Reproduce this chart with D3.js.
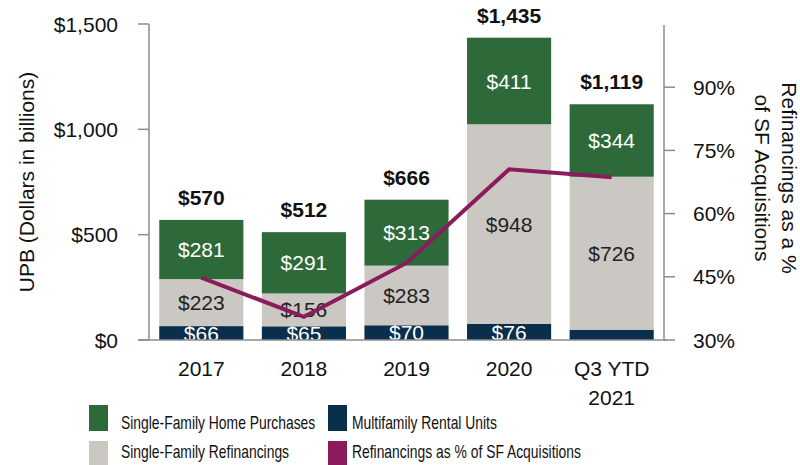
<!DOCTYPE html>
<html>
<head>
<meta charset="utf-8">
<title>UPB acquisitions stacked bars</title>
<script src="https://d3js.org/d3.v7.min.js"></script>
<style>
  body { margin: 0; background: #fff; }
  svg text { font-family: Arial, "Liberation Sans", Helvetica, sans-serif; }
</style>
</head>
<body>
<div id="chart"></div>
<script>
// data
var years = ["2017", "2018", "2019", "2020", "Q3 YTD|2021"];
var multifamily = [66, 65, 70, 76, 49];
var refinancings = [223, 156, 283, 948, 726];
var purchases = [281, 291, 313, 411, 344];
var totals = [570, 512, 666, 1435, 1119];
var refiPct = [44.8, 35.5, 48.3, 70.5, 68.6];
var leftTicks = [0, 500, 1000, 1500];
var rightTicks = [30, 45, 60, 75, 90];

var width = 800, height = 465;
// (window.top is taken, so plotTop etc.)
var plotLeft = 149, plotRight = 664, plotTop = 24, plotBottom = 340;

var svg = d3.select("#chart").append("svg")
    .attr("width", width)
    .attr("height", height);

var x = d3.scaleBand().domain(years).range([plotLeft, plotRight])
    .paddingInner(0.18).paddingOuter(0.1);
var y = d3.scaleLinear().domain([0, 1500]).range([plotBottom, plotTop]);
var y2 = d3.scaleLinear().domain([30, 105]).range([plotBottom, plotTop]);

var green = "#2e6a39", grey = "#cbc8c3", navy = "#0a2f4c", plum = "#8c1b5b";

// stacked segments, bottom up
var rows = years.map(function (d, i) {
    return { year: d, mf: multifamily[i], refi: refinancings[i], purch: purchases[i] };
});
var stack = d3.stack().keys(["mf", "refi", "purch"])(rows);
var fills = { mf: navy, refi: grey, purch: green };
var labelColor = { mf: "#fff", refi: "#222", purch: "#fff" };

stack.forEach(function (layer) {
    var g = svg.append("g");
    g.selectAll("rect")
        .data(layer)
        .enter().append("rect")
        .attr("x", function (d) { return x(d.data.year); })
        .attr("y", function (d) { return y(d[1]); })
        .attr("width", x.bandwidth())
        .attr("height", function (d) { return y(d[0]) - y(d[1]); })
        .attr("fill", fills[layer.key]);
});

// labels go on after all the bars so nothing covers them
stack.forEach(function (layer) {
    svg.append("g").selectAll("text")
        .data(layer.filter(function (d) { return !(layer.key == "mf" && d.data.year.indexOf("2021") >= 0); }))
        .enter().append("text")
        .attr("x", function (d) { return x(d.data.year) + x.bandwidth() / 2; })
        .attr("y", function (d) { return (y(d[0]) + y(d[1])) / 2; })
        .attr("dy", "0.36em")
        .attr("text-anchor", "middle")
        .style("font-size", "21px")
        .attr("fill", labelColor[layer.key])
        .text(function (d) { return "$" + d.data[layer.key]; });
});

// totals above each bar
svg.selectAll("text.total")
    .data(totals)
    .enter().append("text")
    .attr("class", "total")
    .attr("x", function (d, i) { return x(years[i]) + x.bandwidth() / 2; })
    .attr("y", function (d) { return y(d) - 15; })
    .attr("text-anchor", "middle")
    .style("font-size", "21px")
    .style("font-weight", "bold")
    .attr("fill", "#111")
    .text(function (d) { return "$" + d3.format(",")(d); });

// axes
var axisColor = "#8c8c8c";
svg.append("line")
    .attr("x1", plotLeft - 11).attr("x2", plotRight + 3)
    .attr("y1", plotBottom).attr("y2", plotBottom)
    .attr("stroke", axisColor).attr("stroke-width", 1.5);
svg.append("line")
    .attr("x1", plotLeft).attr("x2", plotLeft)
    .attr("y1", plotTop).attr("y2", plotBottom)
    .attr("stroke", axisColor).attr("stroke-width", 1.5);
svg.append("line")
    .attr("x1", plotRight).attr("x2", plotRight)
    .attr("y1", plotTop + 1).attr("y2", plotBottom)
    .attr("stroke", axisColor).attr("stroke-width", 1.5);

svg.selectAll("line.ltick")
    .data(leftTicks)
    .enter().append("line")
    .attr("x1", plotLeft - 11).attr("x2", plotLeft)
    .attr("y1", function (d) { return y(d); })
    .attr("y2", function (d) { return y(d); })
    .attr("stroke", axisColor).attr("stroke-width", 1.5);
svg.selectAll("text.ltick")
    .data(leftTicks)
    .enter().append("text")
    .attr("x", 118)
    .attr("y", function (d) { return y(d); })
    .attr("dy", "0.36em")
    .attr("text-anchor", "end")
    .style("font-size", "21px")
    .attr("fill", "#111")
    .text(function (d) { return "$" + d3.format(",")(d); });

svg.selectAll("line.rtick")
    .data(rightTicks)
    .enter().append("line")
    .attr("x1", plotRight).attr("x2", plotRight + 11)
    .attr("y1", function (d) { return y2(d); })
    .attr("y2", function (d) { return y2(d); })
    .attr("stroke", axisColor).attr("stroke-width", 1.5);
svg.selectAll("text.rtick")
    .data(rightTicks)
    .enter().append("text")
    .attr("x", 693)
    .attr("y", function (d) { return y2(d); })
    .attr("dy", "0.36em")
    .style("font-size", "21px")
    .attr("fill", "#111")
    .text(function (d) { return d + "%"; });

// category labels, the last one on two lines
var xl = svg.selectAll("text.cat")
    .data(years)
    .enter().append("text")
    .attr("x", function (d) { return x(d) + x.bandwidth() / 2; })
    .attr("y", 376)
    .attr("text-anchor", "middle")
    .style("font-size", "21px")
    .attr("fill", "#111");
xl.selectAll("tspan")
    .data(function (d) { return d.split("|"); })
    .enter().append("tspan")
    .attr("x", function () { var p = this.parentNode.__data__; return x(p) + x.bandwidth() / 2; })
    .attr("dy", function (d, i) { return i == 0 ? 0 : 28.5; })
    .text(function (d) { return d; });

// refinancing share line
var line = d3.line()
    .x(function (d, i) { return x(years[i]) + x.bandwidth() / 2; })
    .y(function (d) { return y2(d); });
svg.append("path")
    .datum(refiPct)
    .attr("d", line)
    .attr("fill", "none")
    .attr("stroke", plum)
    .attr("stroke-width", 4);

// axis titles
svg.append("text")
    .attr("transform", "translate(34,182) rotate(-90)")
    .attr("text-anchor", "middle")
    .style("font-size", "21px")
    .attr("fill", "#111")
    .text("UPB (Dollars in billions)");

var rt = svg.append("text")
    .attr("transform", "translate(782,178) rotate(90)")
    .attr("text-anchor", "middle")
    .style("font-size", "21px")
    .attr("fill", "#111");
rt.append("tspan").attr("x", 0).attr("dy", 0).text("Refinancings as a %");
rt.append("tspan").attr("x", 0).attr("dy", 27).text("of SF Acquisitions");

// legend - second row text sits high, it gets cut by the page bottom otherwise
var legendItems = [
    { name: "Single-Family Home Purchases", color: green, x: 89, y: 405, tx: 32, ty: 24 },
    { name: "Multifamily Rental Units", color: navy, x: 328, y: 405, tx: 24, ty: 24 },
    { name: "Single-Family Refinancings", color: grey, x: 89, y: 441, tx: 32, ty: 17 },
    { name: "Refinancings as % of SF Acquisitions", color: plum, x: 328, y: 441, tx: 24, ty: 17 }
];
var lg = svg.selectAll("g.legend")
    .data(legendItems)
    .enter().append("g")
    .attr("transform", function (d) { return "translate(" + d.x + "," + d.y + ")"; });
lg.append("rect")
    .attr("width", 19).attr("height", 26)
    .attr("fill", function (d) { return d.color; });
lg.append("text")
    .attr("transform", function (d) { return "translate(" + d.tx + "," + d.ty + ") scale(0.75,1)"; })
    .style("font-size", "18.5px")
    .attr("fill", "#111")
    .text(function (d) { return d.name; });
</script>
</body>
</html>
